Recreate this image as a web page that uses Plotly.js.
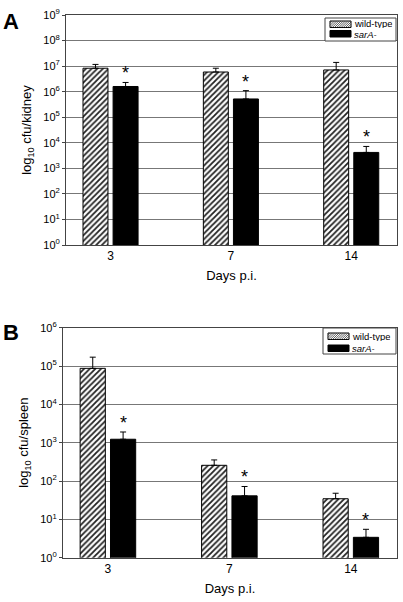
<!DOCTYPE html>
<html><head><meta charset="utf-8">
<script src="https://cdn.plot.ly/plotly-3.0.1.min.js"></script>
<style>html,body{margin:0;padding:0;background:#fff}#c{width:403px;height:602px}</style>
</head><body><div id="c"></div>
<script>
const days = ['3', '7', '14'];
const kidneyWT = [8.3e6, 5.9e6, 7.1e6];
const kidneyWTErr = [3.4e6, 2.4e6, 6.9e6];
const kidneySar = [1.6e6, 5.2e5, 4.2e3];
const kidneySarErr = [0.7e6, 5.8e5, 3.0e3];
const spleenWT = [8.7e4, 257, 34.5];
const spleenWTErr = [8.3e4, 98, 13.5];
const spleenSar = [1230, 41, 3.4];
const spleenSarErr = [670, 31, 2.1];
const kidneySig = [true, true, true];
const spleenSig = [true, true, true];
const seriesNames = ['wild-type', '<i>sarA-</i>'];
const kidneyTickVals = [1, 1e1, 1e2, 1e3, 1e4, 1e5, 1e6, 1e7, 1e8, 1e9];
const kidneyTickText = ['10<sup>0</sup>', '10<sup>1</sup>', '10<sup>2</sup>', '10<sup>3</sup>', '10<sup>4</sup>', '10<sup>5</sup>', '10<sup>6</sup>', '10<sup>7</sup>', '10<sup>8</sup>', '10<sup>9</sup>'];
const spleenTickVals = [1, 1e1, 1e2, 1e3, 1e4, 1e5, 1e6];
const spleenTickText = ['10<sup>0</sup>', '10<sup>1</sup>', '10<sup>2</sup>', '10<sup>3</sup>', '10<sup>4</sup>', '10<sup>5</sup>', '10<sup>6</sup>'];

const FONT = 'Liberation Sans, Arial, sans-serif';
const W = 403, H = 602;
const bargap = 0.5;
const zeros = days.map(() => 0);

function wtTrace(y, err, xa, ya) {
  return {type: 'bar', name: seriesNames[0], x: days, y: y, xaxis: xa, yaxis: ya, showlegend: false,
    marker: {color: '#fff', line: {color: '#000', width: 1},
      pattern: {shape: '/', fgcolor: '#222', bgcolor: '#fff', size: 4, solidity: 0.45}},
    error_y: {type: 'data', array: err, arrayminus: zeros, symmetric: false, color: '#000', thickness: 1, width: 3}};
}
function sarTrace(y, err, xa, ya) {
  return {type: 'bar', name: seriesNames[1], x: days, y: y, xaxis: xa, yaxis: ya, showlegend: false,
    marker: {color: '#000', line: {color: '#000', width: 1}},
    error_y: {type: 'data', array: err, arrayminus: zeros, symmetric: false, color: '#000', thickness: 1, width: 3}};
}

const data = [
  wtTrace(kidneyWT, kidneyWTErr, 'x', 'y'),
  sarTrace(kidneySar, kidneySarErr, 'x', 'y'),
  wtTrace(spleenWT, spleenWTErr, 'x2', 'y2'),
  sarTrace(spleenSar, spleenSarErr, 'x2', 'y2')
];

const offset = (1 - bargap) / 4;
const annotations = [];
const shapes = [];
function stars(vals, errs, sig, xr, yr) {
  vals.forEach((v, i) => {
    if (sig[i]) annotations.push({xref: xr, yref: yr, x: i + offset, y: Math.log10(v + errs[i]),
      text: '*', showarrow: false, yanchor: 'bottom', yshift: -3, font: {family: FONT, size: 18, color: '#000'}});
  });
}
stars(kidneySar, kidneySarErr, kidneySig, 'x', 'y');
stars(spleenSar, spleenSarErr, spleenSig, 'x2', 'y2');
annotations.push({xref: 'paper', yref: 'paper', x: 0.003, y: 0.988, xanchor: 'left', yanchor: 'top', text: '<b>A</b>', showarrow: false, font: {family: FONT, size: 22, color: '#000'}});
annotations.push({xref: 'paper', yref: 'paper', x: 0.003, y: 0.472, xanchor: 'left', yanchor: 'top', text: '<b>B</b>', showarrow: false, font: {family: FONT, size: 22, color: '#000'}});

// compact legend drawn in paper coordinates (pixel helpers)
const px = (x) => x / W, py = (y) => 1 - y / H;
function legendBox(x0, y0, x1, y1, sw0, sw1, rows, textX, textY) {
  shapes.push({type: 'rect', xref: 'paper', yref: 'paper', x0: px(x0), x1: px(x1), y0: py(y0), y1: py(y1),
    line: {color: '#444', width: 1}, fillcolor: '#fff', layer: 'above'});
  const [a0, a1] = rows[0];
  const w = sw1 - sw0, h = a1 - a0;
  shapes.push({type: 'rect', xref: 'paper', yref: 'paper', x0: px(sw0), x1: px(sw1), y0: py(a0), y1: py(a1),
    line: {color: '#000', width: 1}, fillcolor: '#fff', layer: 'above'});
  let path = '';
  for (let k = -h; k < w; k += 2.2) {
    const t0 = Math.max(0, -k), t1 = Math.min(h, w - k);
    if (t1 <= t0) continue;
    path += `M${px(sw0 + k + t0)},${py(a1 - t0)}L${px(sw0 + k + t1)},${py(a1 - t1)}`;
  }
  shapes.push({type: 'path', xref: 'paper', yref: 'paper', path: path, line: {color: '#333', width: 0.8}, layer: 'above'});
  const [b0, b1] = rows[1];
  shapes.push({type: 'rect', xref: 'paper', yref: 'paper', x0: px(sw0), x1: px(sw1), y0: py(b0), y1: py(b1),
    line: {color: '#000', width: 1}, fillcolor: '#000', layer: 'above'});
  textY.forEach((ty, i) => annotations.push({xref: 'paper', yref: 'paper', x: px(textX), y: py(ty),
    xanchor: 'left', yanchor: 'middle', text: seriesNames[i], showarrow: false, borderpad: 0, height: 9,
    font: {family: FONT, size: 9.5, color: '#000'}}));
}
legendBox(325, 18, 396, 41, 330, 351, [[21, 27.5], [30.5, 37]], 353, [23.5, 34.8]);
legendBox(323, 328, 396, 354, 328, 349, [[333, 339.5], [345, 351.5]], 351, [336, 348]);

function xax(domain, anchor) {
  return {domain: domain, anchor: anchor, type: 'category', range: [-0.37, 2.38],
    showline: true, linecolor: '#444', linewidth: 1, mirror: true, ticks: '', showgrid: false,
    tickfont: {family: FONT, size: 12, color: '#000'},
    title: {text: 'Days p.i.', font: {family: FONT, size: 13, color: '#000'}, standoff: 8}};
}
function yax(domain, anchor, range, title, tv, tt) {
  return {domain: domain, anchor: anchor, type: 'log', range: range, tickmode: 'array', tickvals: tv, ticktext: tt,
    showline: true, linecolor: '#444', linewidth: 1, mirror: true, ticks: 'outside', ticklen: 3, tickcolor: '#444',
    showgrid: true, gridcolor: '#777', gridwidth: 1, zeroline: false,
    tickfont: {family: FONT, size: 11, color: '#000'},
    title: {text: title, font: {family: FONT, size: 13, color: '#000'}, standoff: 8}};
}

const layout = {
  width: W, height: H, margin: {l: 0, r: 0, t: 0, b: 0},
  paper_bgcolor: '#fff', plot_bgcolor: '#fff', barmode: 'group', bargap: bargap, bargroupgap: 0.17,
  xaxis: xax([0.1638, 0.985], 'y'),
  yaxis: yax([0.593, 0.975], 'x', [0, 9], 'log<sub>10</sub> cfu/kidney', kidneyTickVals, kidneyTickText),
  xaxis2: xax([0.1563, 0.985], 'y2'),
  yaxis2: yax([0.0736, 0.4557], 'x2', [0, 6], 'log<sub>10</sub> cfu/spleen', spleenTickVals, spleenTickText),
  annotations: annotations,
  shapes: shapes,
  showlegend: false
};
Plotly.newPlot('c', data, layout, {displayModeBar: false, staticPlot: true});
</script></body></html>
